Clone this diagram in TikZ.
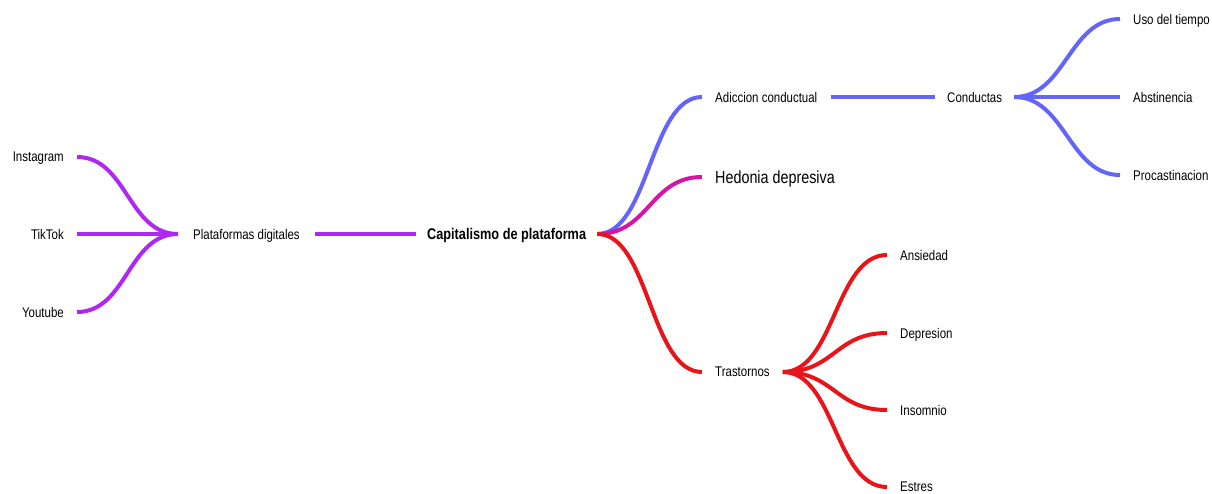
\documentclass[tikz,border=0pt]{standalone}
\usepackage{fontspec}
\setmainfont{Liberation Sans}[FakeStretch=0.82]
\usepackage{xcolor}
\usepackage{tikz}
\definecolor{plat}{HTML}{B026F2}
\definecolor{adic}{HTML}{6464F8}
\definecolor{hedo}{HTML}{D416A8}
\definecolor{tras}{HTML}{E8141A}
\tikzset{
  topic/.style={inner xsep=13pt,inner ysep=2pt,text depth=0pt,font=\fontsize{14}{16}\selectfont},
  branch/.style={line width=4pt}
}

\begin{document}
\begin{tikzpicture}[x=1pt,y=-1pt]
\useasboundingbox (0,0) rectangle (1212,493);
% centro
\node[topic,anchor=west,font=\fontsize{15.5}{18}\selectfont\bfseries,inner xsep=11pt] (root) at (416,234) {Capitalismo de plataforma};
\node[topic,anchor=west,inner xsep=15pt] (plataformas) at (178,234) {Plataformas digitales};
\node[topic,anchor=west] (adiccion) at (702,97) {Adiccion conductual};
\node[topic,anchor=west,font=\fontsize{17.5}{20}\selectfont] (hedonia) at (702,177) {Hedonia depresiva};
\node[topic,anchor=west] (trastornos) at (702,372) {Trastornos};
\node[topic,anchor=west,inner xsep=12pt] (conductas) at (935,97) {Conductas};
% hojas izquierda
\foreach \n/\t/\y in {insta/Instagram/157,tiktok/TikTok/234,youtube/Youtube/312}
  \node[topic,anchor=east] (\n) at (77,\y) {\t};
% hojas derecha
\foreach \n/\t/\y in {uso/Uso del tiempo/19,abst/Abstinencia/97,procas/Procastinacion/175}
  \node[topic,anchor=west] (\n) at (1120,\y) {\t};
\foreach \n/\t/\y in {ansie/Ansiedad/255,depre/Depresion/333,insom/Insomnio/410,estres/Estres/487}
  \node[topic,anchor=west] (\n) at (887,\y) {\t};
% ramas
\draw[branch,plat] (plataformas.east) -- (root.west);
\foreach \n in {insta,tiktok,youtube}
  \draw[branch,plat] (\n.east) .. controls +(50,0) and +(-50,0) .. (plataformas.west);
\draw[branch,adic] (root.east) .. controls +(52,0) and +(-52,0) .. (adiccion.west);
\draw[branch,hedo] (root.east) .. controls +(52,0) and +(-52,0) .. (hedonia.west);
\draw[branch,tras] (root.east) .. controls +(52,0) and +(-52,0) .. (trastornos.west);
\draw[branch,adic] (adiccion.east) -- (conductas.west);
\foreach \n in {uso,abst,procas}
  \draw[branch,adic] (conductas.east) .. controls +(51,0) and +(-51,0) .. (\n.west);
\foreach \n in {ansie,depre,insom,estres}
  \draw[branch,tras] (trastornos.east) .. controls +(52,0) and +(-52,0) .. (\n.west);
\end{tikzpicture}
\end{document}
